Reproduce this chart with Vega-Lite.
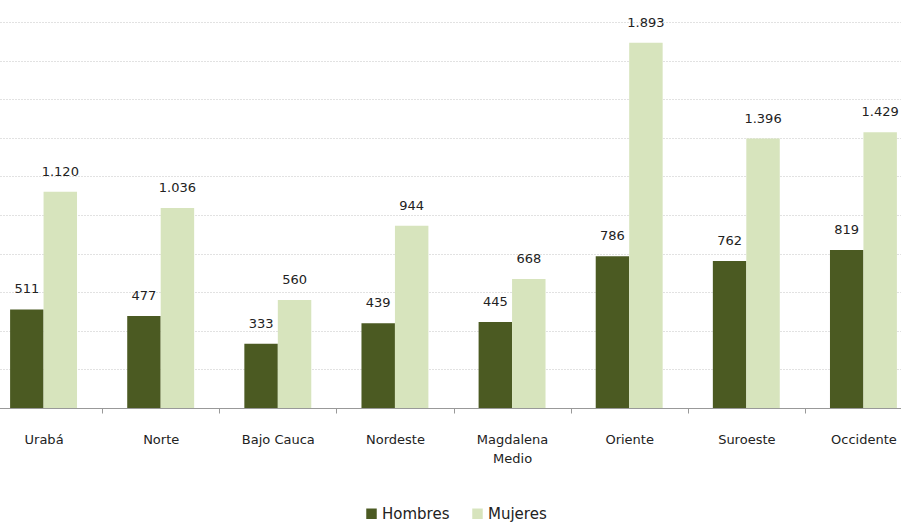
{
  "$schema": "https://vega.github.io/schema/vega-lite/v6.json",
  "width": 892,
  "height": 386,
  "autosize": "none",
  "padding": {"top": 22, "left": 9, "right": 0, "bottom": 118},
  "config": {
    "view": {"stroke": null},
    "font": "DejaVu Sans",
    "locale": {
      "number": {"decimal": ",", "thousands": ".", "grouping": [3], "currency": ["$", ""]}
    }
  },
  "data": {
    "values": [
      {"region": "Urabá", "sexo": "Hombres", "valor": 511},
      {"region": "Urabá", "sexo": "Mujeres", "valor": 1120},
      {"region": "Norte", "sexo": "Hombres", "valor": 477},
      {"region": "Norte", "sexo": "Mujeres", "valor": 1036},
      {"region": "Bajo Cauca", "sexo": "Hombres", "valor": 333},
      {"region": "Bajo Cauca", "sexo": "Mujeres", "valor": 560},
      {"region": "Nordeste", "sexo": "Hombres", "valor": 439},
      {"region": "Nordeste", "sexo": "Mujeres", "valor": 944},
      {"region": "Magdalena Medio", "sexo": "Hombres", "valor": 445},
      {"region": "Magdalena Medio", "sexo": "Mujeres", "valor": 668},
      {"region": "Oriente", "sexo": "Hombres", "valor": 786},
      {"region": "Oriente", "sexo": "Mujeres", "valor": 1893},
      {"region": "Suroeste", "sexo": "Hombres", "valor": 762},
      {"region": "Suroeste", "sexo": "Mujeres", "valor": 1396},
      {"region": "Occidente", "sexo": "Hombres", "valor": 819},
      {"region": "Occidente", "sexo": "Mujeres", "valor": 1429}
    ]
  },
  "encoding": {
    "x": {
      "field": "region",
      "type": "nominal",
      "sort": null,
      "scale": {"range": [-24, 913], "paddingInner": 0, "paddingOuter": 0},
      "axis": {
        "title": null,
        "labelAngle": 0,
        "tickBand": "extent",
        "grid": false,
        "domainColor": "#999999",
        "tickColor": "#999999",
        "tickSize": 5,
        "labelPadding": 20,
        "labelFontSize": 13,
        "labelColor": "#222222",
        "labelLineHeight": 19,
        "labelBaseline": "top",
        "labelExpr": "datum.label == 'Magdalena Medio' ? ['Magdalena', 'Medio'] : datum.label"
      }
    },
    "xOffset": {
      "field": "sexo",
      "type": "nominal",
      "sort": ["Hombres", "Mujeres"],
      "scale": {"paddingInner": 0, "paddingOuter": 0.75}
    },
    "y": {
      "field": "valor",
      "type": "quantitative",
      "scale": {"domain": [0, 2000], "nice": false},
      "axis": {
        "title": null,
        "labels": false,
        "ticks": false,
        "domain": false,
        "values": [200, 400, 600, 800, 1000, 1200, 1400, 1600, 1800, 2000],
        "gridColor": "#c4c4c4",
        "gridDash": [1, 2]
      }
    }
  },
  "layer": [
    {
      "mark": {"type": "bar"},
      "encoding": {
        "color": {
          "field": "sexo",
          "type": "nominal",
          "sort": ["Hombres", "Mujeres"],
          "scale": {"domain": ["Hombres", "Mujeres"], "range": ["#4b5a22", "#d7e4bd"]},
          "legend": {
            "title": null,
            "orient": "none",
            "direction": "horizontal",
            "legendX": 355,
            "legendY": 484,
            "symbolType": "square",
            "symbolSize": 110,
            "symbolStrokeWidth": 0,
            "labelFontSize": 15,
            "labelColor": "#222222",
            "columnPadding": 20,
            "labelOffset": 3
          }
        }
      }
    },
    {
      "mark": {"type": "text", "baseline": "alphabetic", "dy": -16, "fontSize": 13, "color": "#222222"},
      "encoding": {
        "text": {"field": "valor", "type": "quantitative", "format": ",d"}
      }
    }
  ]
}
